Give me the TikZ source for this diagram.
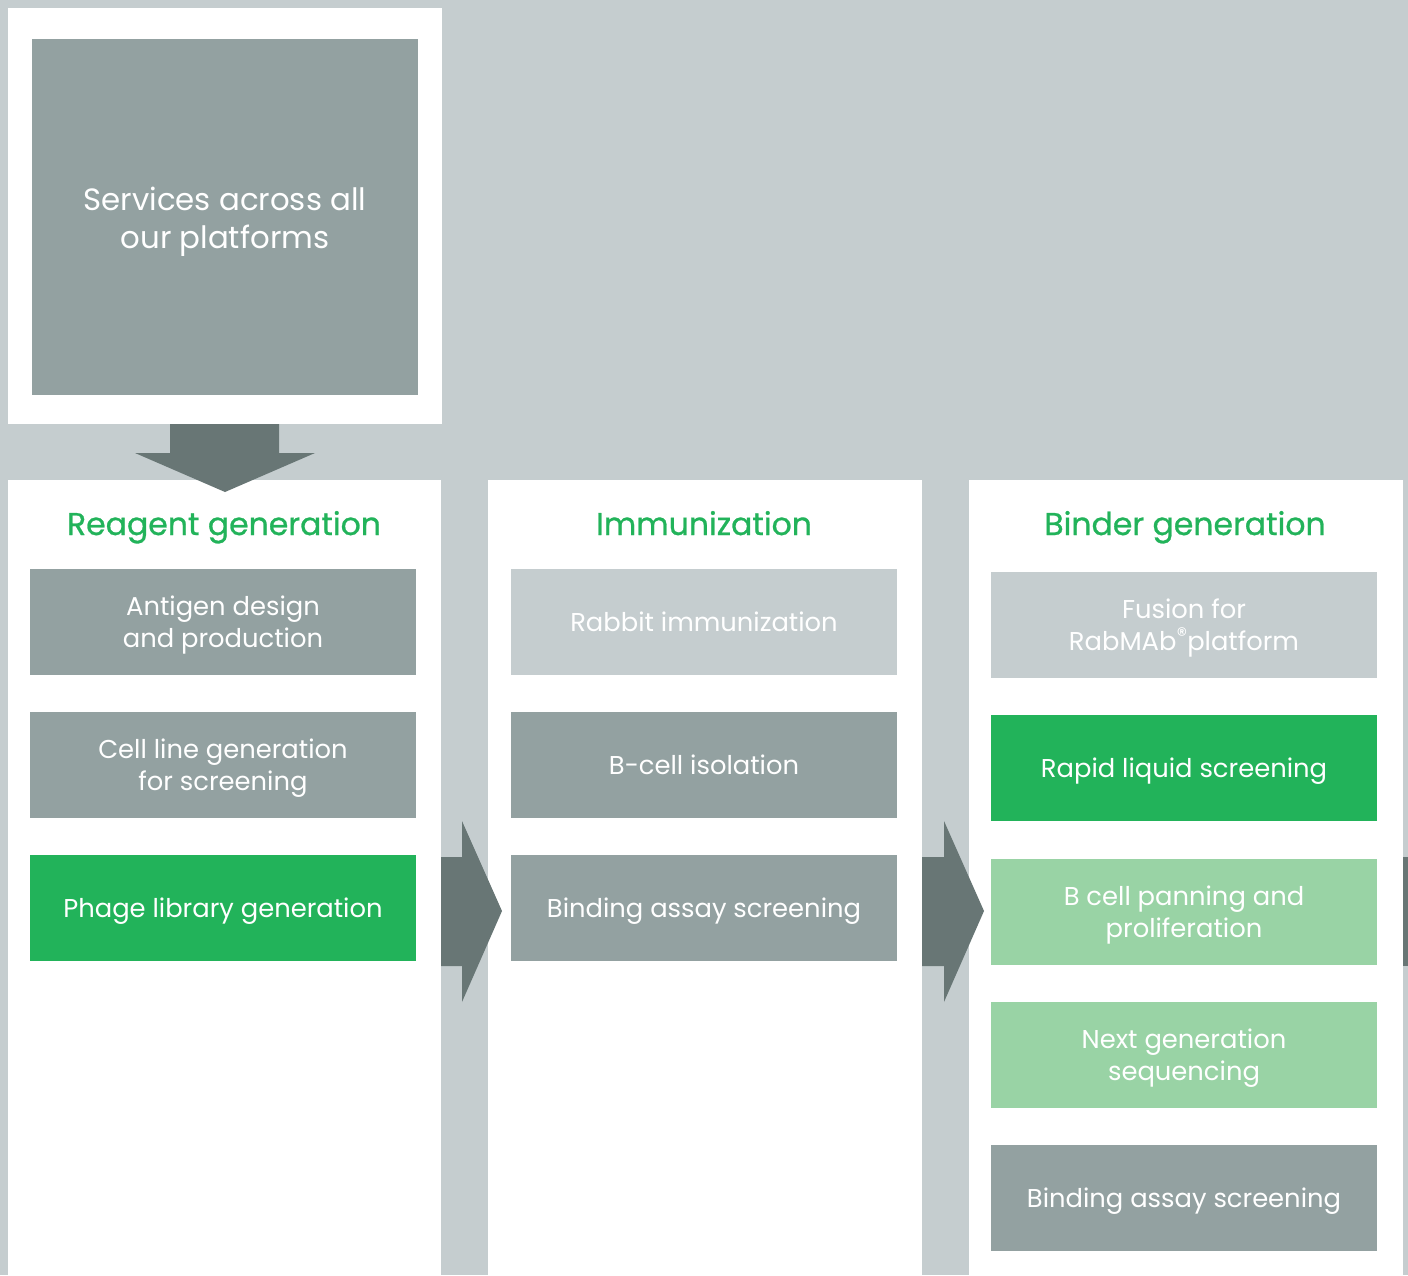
\documentclass[tikz,border=0pt]{standalone}
\usepackage{fontspec}
\setmainfont{Poppins}
\newfontfamily\titlefont{Poppins}[FakeBold=0.8]
\definecolor{bggray}{HTML}{C5CDCF}
\definecolor{midgray}{HTML}{93A1A1}
\definecolor{darkgray}{HTML}{687675}
\definecolor{brandgreen}{HTML}{22B35A}
\definecolor{lightgreen}{HTML}{99D3A5}
\newcommand{\regmark}{\raisebox{0.3em}{\fontsize{21}{21}\selectfont ®}}
\begin{document}
\begin{tikzpicture}[x=1pt,y=-1pt,
  colbox/.style={fill=white,draw=none},
  stepbox/.style={minimum width=386pt,minimum height=106pt,inner sep=0pt},
  boxtext/.style={inner sep=0pt,text=white,align=center,font=\fontsize{25.8}{32}\selectfont,yshift=-3pt},
  onetext/.style={boxtext,text depth=6.5pt},
  greybox/.style={stepbox,fill=midgray},
  palebox/.style={stepbox,fill=bggray},
  greenbox/.style={stepbox,fill=brandgreen},
  lgreenbox/.style={stepbox,fill=lightgreen},
  coltitle/.style={text=brandgreen,font=\titlefont\fontsize{31.5}{36}\selectfont,inner sep=0pt,anchor=base},
  blockarrow/.style={fill=darkgray,draw=none}]
\fill[bggray] (0,0) rectangle (1408,1275);
\useasboundingbox (0,0) rectangle (1408,1275);
% top panel
\fill[white] (8,8) rectangle (442,424);
\node[stepbox,fill=midgray,minimum height=356pt] (top) at (225,217) {};
\node[boxtext,font=\fontsize{30.8}{38}\selectfont,yshift=-2pt] (toptext) at (top.center) {Services across all\\our platforms};
% columns
\fill[colbox] (8,480) rectangle (441,1275);
\fill[colbox] (488,480) rectangle (922,1275);
\fill[colbox] (969,480) rectangle (1403,1275);
% arrows
\fill[blockarrow] (170,424)--(279,424)--(279,453)--(315,453)--(225,492)--(135,453)--(170,453)--cycle;
\fill[blockarrow] (441,857)--(462,857)--(462,821)--(502,911)--(462,1002)--(462,966)--(441,966)--cycle;
\fill[blockarrow] (922,857)--(944,857)--(944,821)--(984,911)--(944,1002)--(944,966)--(922,966)--cycle;
\fill[blockarrow] (1403,857) rectangle (1408,966);
% titles
\node[coltitle] (t1) at (224,535) {Reagent generation};
\node[coltitle] (t2) at (704,535) {Immunization};
\node[coltitle] (t3) at (1185,535) {Binder generation};
% column 1
\node[greybox] (a1) at (223,622) {};
\node[boxtext] (a1t) at (a1.center) {Antigen design\\and production};
\node[greybox] (a2) at (223,765) {};
\node[boxtext] (a2t) at (a2.center) {Cell line generation\\for screening};
\node[greenbox] (a3) at (223,908) {};
\node[onetext] (a3t) at (a3.center) {Phage library generation};
% column 2
\node[palebox] (b1) at (704,622) {};
\node[onetext] (b1t) at (b1.center) {Rabbit immunization};
\node[greybox] (b2) at (704,765) {};
\node[onetext] (b2t) at (b2.center) {B-cell isolation};
\node[greybox] (b3) at (704,908) {};
\node[onetext] (b3t) at (b3.center) {Binding assay screening};
% column 3
\node[palebox] (c1) at (1184,625) {};
\node[boxtext] (c1t) at (c1.center) {Fusion for\\RabMAb\regmark platform};
\node[greenbox] (c2) at (1184,768) {};
\node[onetext] (c2t) at (c2.center) {Rapid liquid screening};
\node[lgreenbox] (c3) at (1184,912) {};
\node[boxtext] (c3t) at (c3.center) {B cell panning and\\proliferation};
\node[lgreenbox] (c4) at (1184,1055) {};
\node[boxtext] (c4t) at (c4.center) {Next generation\\sequencing};
\node[greybox] (c5) at (1184,1198) {};
\node[onetext] (c5t) at (c5.center) {Binding assay screening};
\end{tikzpicture}
\end{document}
